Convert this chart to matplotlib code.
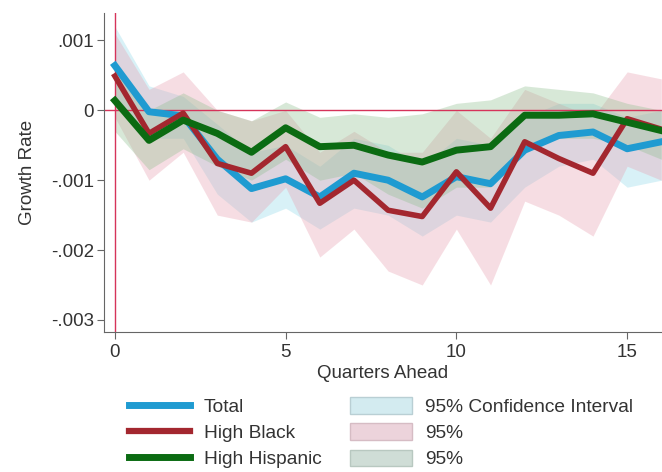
import matplotlib.pyplot as plt
from matplotlib.patches import Patch
from matplotlib.lines import Line2D

plt.rcParams['font.family'] = ['Liberation Sans', 'DejaVu Sans']

quarters = list(range(17))

total = [0.00064, -0.00002, -0.00008, -0.0007, -0.00112, -0.00098, -0.00124, -0.0009, -0.001,
         -0.00124, -0.00095, -0.00105, -0.00057, -0.00036, -0.00031, -0.00055, -0.00045]
total_hi = [0.0012, 0.00035, 0.0002, -0.0002, -0.0006, -0.0005, -0.0008, -0.0004, -0.0005,
            -0.0008, -0.0004, -0.0005, -0.0001, 0.0001, 0.0001, -0.0001, 0.0]
total_lo = [0.0001, -0.0004, -0.0004, -0.0012, -0.0016, -0.0014, -0.0017, -0.0014, -0.0015,
            -0.0018, -0.0015, -0.0016, -0.0011, -0.0008, -0.0007, -0.0011, -0.001]

black = [0.00049, -0.00033, -0.00004, -0.00076, -0.0009, -0.00052, -0.00133, -0.001, -0.00143,
         -0.00152, -0.00088, -0.0014, -0.00045, -0.00069, -0.0009, -0.00012, -0.00027]
black_hi = [0.0011, 0.0003, 0.00055, 0.0, -0.00015, 0.0, -0.0006, -0.0003, -0.0006,
            -0.0006, 0.0, -0.0004, 0.0003, 0.0001, -0.0001, 0.00055, 0.00045]
black_lo = [-0.0001, -0.001, -0.0006, -0.0015, -0.0016, -0.0011, -0.0021, -0.0017, -0.0023,
            -0.0025, -0.0017, -0.0025, -0.0013, -0.0015, -0.0018, -0.0008, -0.001]

hisp = [0.00014, -0.00043, -0.00014, -0.00033, -0.0006, -0.00025, -0.00052, -0.0005, -0.00064,
        -0.00074, -0.00057, -0.00052, -0.00007, -0.00007, -0.00005, -0.00017, -0.00029]
hisp_hi = [0.0006, 0.0, 0.00025, 0.0, -0.00015, 0.00012, -0.0001, -0.00005, -0.0001,
           -0.00005, 0.0001, 0.00015, 0.00035, 0.0003, 0.00025, 0.0001, 0.0]
hisp_lo = [-0.0003, -0.00085, -0.00055, -0.0008, -0.001, -0.0007, -0.001, -0.0009, -0.0012,
           -0.0014, -0.0011, -0.0011, -0.0005, -0.0004, -0.0004, -0.0005, -0.0007]

yticks = [0.001, 0, -0.001, -0.002, -0.003]
ytick_labels = ['.001', '0', '-.001', '-.002', '-.003']

c_total = '#1f9bd1'
c_black = '#a3272f'
c_hisp = '#0b6b12'

fig = plt.figure(figsize=(6.62, 4.72), dpi=100)
ax = fig.add_axes([0.157, 0.297, 0.843, 0.675])

ax.fill_between(quarters, total_lo, total_hi, color='#7fd3e6', alpha=0.3, lw=0)
ax.fill_between(quarters, black_lo, black_hi, color='#e8a0b0', alpha=0.35, lw=0)
ax.fill_between(quarters, hisp_lo, hisp_hi, color='#8fbf8f', alpha=0.35, lw=0)

ax.axhline(0, color='#d6335a', lw=1)
ax.axvline(0, color='#d6335a', lw=1)

ax.plot(quarters, total, color=c_total, lw=5)
ax.plot(quarters, black, color=c_black, lw=4)
ax.plot(quarters, hisp, color=c_hisp, lw=5)

ax.set_xlim(-0.32, 16.02)
ax.set_ylim(-0.00317, 0.00139)
ax.set_xticks([0, 5, 10, 15])
ax.set_yticks(yticks)
ax.set_yticklabels(ytick_labels)
for s in ['top', 'right']:
    ax.spines[s].set_visible(False)
for s in ['left', 'bottom']:
    ax.spines[s].set_color('#666666')
ax.tick_params(colors='#333333', labelsize=13.5, length=5, pad=2, color='#666666')
ax.tick_params(axis='x', pad=4)
ax.set_xlabel('Quarters Ahead', fontsize=13.5, color='#333333', labelpad=3)
ax.set_ylabel('Growth Rate', fontsize=13.5, color='#333333', labelpad=11)

handles = [
    Line2D([], [], color=c_total, lw=5),
    Line2D([], [], color=c_black, lw=4.5),
    Line2D([], [], color=c_hisp, lw=5),
    Patch(facecolor='#d3ebf0', edgecolor='#b9cfd4'),
    Patch(facecolor='#ecd3db', edgecolor='#d6bcc4'),
    Patch(facecolor='#cfddd6', edgecolor='#b8c8c0'),
]
labels = ['Total', 'High Black', 'High Hispanic', '95% Confidence Interval', '95%', '95%']
fig.legend(handles, labels, ncol=2, loc='center left', bbox_to_anchor=(0.195, 0.083),
           frameon=False, fontsize=13.8, handlelength=3.2, handleheight=0.95,
           columnspacing=1.5, labelspacing=0.38, handletextpad=0.7, labelcolor='#333333',
           borderpad=0, borderaxespad=0)

fig.savefig('out.png', dpi=100)
